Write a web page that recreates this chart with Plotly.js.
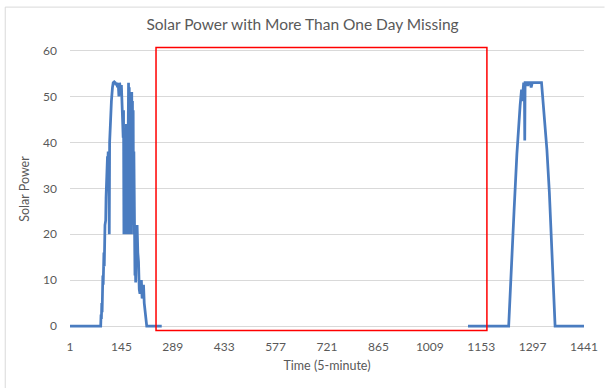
<!DOCTYPE html>
<html>
<head>
<meta charset="utf-8">
<script src="https://cdn.plot.ly/plotly-3.0.1.min.js"></script>
<style>
  html, body { margin: 0; padding: 0; background: #ffffff; }
  #chart { width: 605px; height: 388px; }
</style>
</head>
<body>
<div id="chart"></div>
<script>
// 5-minute time index of each recorded vertex (null marks the missing stretch)
const timeIndex = [
  1, 87, 88, 89, 90, 91, 93, 94, 96, 97, 99, 101, 102, 104, 105, 106, 107, 108, 110, 111,
  112, 114, 117, 120, 122, 125, 128, 130, 132, 134, 136, 138, 139, 140, 143, 145, 147, 149,
  150, 151, 152, 153, 154, 155, 156, 157, 158, 159, 160, 161, 162, 164, 165, 166, 167, 168,
  169, 170, 171, 173, 174, 175, 176, 177, 178, 179, 180, 181, 182, 183, 184, 185, 187, 189,
  191, 193, 195, 197, 199, 201, 203, 205, 207, 209, 212, 216, 258,
  null,
  1116, 1230, 1245, 1253, 1262, 1266, 1268, 1270, 1272, 1274, 1275, 1276, 1280, 1283, 1285,
  1290, 1293, 1296, 1322, 1337, 1344, 1345, 1350, 1352, 1356, 1360, 1441
];

// Solar power at each of those indices
const solarPower = [
  0, 0, 2.5, 1.5, 5, 3, 11, 9, 16, 13, 22, 23, 28, 33, 31, 37, 35, 38, 36, 20,
  40, 45, 49, 52, 53, 53.2, 53, 52.5, 53, 52, 53, 50, 52.5, 53, 51, 52.5, 48, 45,
  41, 47, 20, 42, 30, 42, 20, 38, 21, 44, 26, 40, 20, 50, 53, 21, 52, 40,
  20, 35, 20, 48, 51, 30, 49, 22, 47, 20, 38, 18, 14, 11, 14, 9.5, 20, 22,
  16, 14, 8, 7, 9, 10, 6, 7, 9, 5, 3, 0, 0,
  null,
  0, 0, 25, 37.5, 48, 51.5, 49, 52.5, 53, 52.5, 40.4, 53, 53, 52.3, 53,
  53, 52, 53, 53, 38.5, 29, 27, 17, 14, 6, 0, 0
];

// Axis ticks
const xTicks = [1, 145, 289, 433, 577, 721, 865, 1009, 1153, 1297, 1441];
const yTicks = [0, 10, 20, 30, 40, 50, 60];

// Highlighted window around the missing data
const missingStart = 242;
const missingEnd = 1169;
const missingLow = -1.0;
const missingHigh = 60.7;

const grey = '#595959';
const fontFam = 'Lato, "Open Sans", sans-serif';

const trace = {
  x: timeIndex,
  y: solarPower,
  type: 'scatter',
  mode: 'lines',
  connectgaps: false,
  line: { color: '#4a7cc0', width: 2.75 },
  hoverinfo: 'x+y'
};

const layout = {
  width: 605,
  height: 388,
  margin: { l: 70, r: 21, t: 46, b: 56 },
  paper_bgcolor: '#ffffff',
  plot_bgcolor: '#ffffff',
  showlegend: false,
  font: { family: fontFam, color: grey, size: 12 },
  title: {
    text: 'Solar Power with More Than One Day Missing',
    font: { family: fontFam, size: 15.5, color: grey },
    x: 0.5, xanchor: 'center',
    y: 1 - 25 / 388, yanchor: 'middle', yref: 'container'
  },
  xaxis: {
    range: [1, 1441],
    tickmode: 'array',
    tickvals: xTicks,
    ticktext: xTicks.map(String),
    showgrid: false,
    zeroline: false,
    showline: false,
    ticks: '',
    ticklabelstandoff: 6,
    tickfont: { family: fontFam, size: 12, color: grey },
    title: { text: 'Time (5-minute)', font: { family: fontFam, size: 12.5, color: grey }, standoff: 8 }
  },
  yaxis: {
    range: [-1.3, 61],
    tickmode: 'array',
    tickvals: yTicks,
    ticktext: yTicks.map(String),
    showgrid: true,
    gridcolor: '#d9d9d9',
    gridwidth: 1,
    zeroline: false,
    showline: false,
    ticks: '',
    ticklabelstandoff: 12,
    tickfont: { family: fontFam, size: 12, color: grey },
    title: { text: 'Solar Power', font: { family: fontFam, size: 12.5, color: grey }, standoff: 10 }
  },
  shapes: [
    {
      type: 'rect', xref: 'x', yref: 'y',
      x0: missingStart, x1: missingEnd, y0: missingLow, y1: missingHigh,
      line: { color: '#ff0000', width: 1.5 },
      fillcolor: 'rgba(0,0,0,0)',
      layer: 'above'
    },
    // chart area frame (top and left edges)
    {
      type: 'line', xref: 'paper', yref: 'paper',
      x0: -0.126, x1: 1.04, y0: 1.136, y1: 1.136,
      line: { color: '#d9d9d9', width: 1 }
    },
    {
      type: 'line', xref: 'paper', yref: 'paper',
      x0: -0.126, x1: -0.126, y0: 1.136, y1: -0.2,
      line: { color: '#d9d9d9', width: 1 }
    }
  ]
};

Plotly.newPlot('chart', [trace], layout, { displayModeBar: false, staticPlot: true });
</script>
</body>
</html>
